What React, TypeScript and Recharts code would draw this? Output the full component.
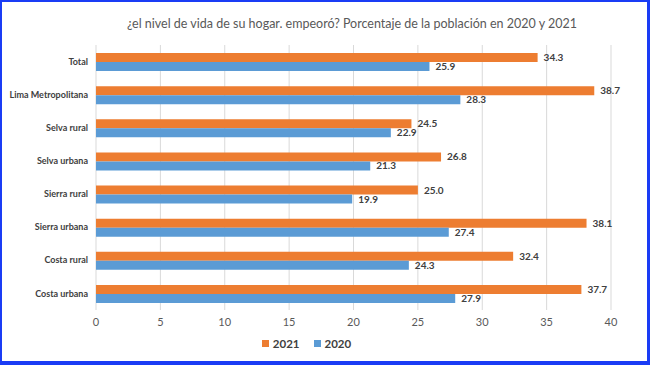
import { BarChart, Bar, XAxis, YAxis, CartesianGrid, Legend, LabelList } from "recharts";

const regions = [
  "Total",
  "Lima Metropolitana",
  "Selva rural",
  "Selva urbana",
  "Sierra rural",
  "Sierra urbana",
  "Costa rural",
  "Costa urbana",
];
const values2021 = [34.3, 38.7, 24.5, 26.8, 25.0, 38.1, 32.4, 37.7];
const values2020 = [25.9, 28.3, 22.9, 21.3, 19.9, 27.4, 24.3, 27.9];
const xTicks = [0, 5, 10, 15, 20, 25, 30, 35, 40];
const series = [
  { key: "y2021", name: "2021", color: "#ED7D31" },
  { key: "y2020", name: "2020", color: "#5B9BD5" },
];

const data = regions.map((r, i) => ({ region: r, y2021: values2021[i], y2020: values2020[i] }));

const font = "Lato, 'Open Sans', sans-serif";

// keeps the long category names on one line
function RegionTick(props: any) {
  const { x, y, payload } = props;
  return (
    <text x={x} y={y} dy="0.35em" textAnchor="end" fontSize={9} fontWeight={700} fill="#404040">
      {payload.value}
    </text>
  );
}

function LegendRow() {
  return (
    <div
      style={{
        display: "flex",
        justifyContent: "center",
        gap: 14,
        paddingTop: 7,
        fontSize: 11.5,
        fontWeight: 700,
        color: "#404040",
      }}
    >
      {series.map((s) => (
        <span key={s.key} style={{ display: "flex", alignItems: "center", gap: 4 }}>
          <span style={{ width: 7, height: 7, background: s.color, display: "inline-block" }} />
          {s.name}
        </span>
      ))}
    </div>
  );
}

export default function App() {
  return (
    <div
      style={{
        position: "absolute",
        top: 0,
        left: 0,
        width: 650,
        height: 365,
        boxSizing: "border-box",
        borderStyle: "solid",
        borderColor: "#1a3cf5",
        borderWidth: "2px 3px 4px 2px",
        background: "#fff",
        fontFamily: font,
      }}
    >
      <div
        style={{
          position: "absolute",
          top: 14,
          left: 0,
          width: 700,
          textAlign: "center",
          fontSize: 12.5,
          color: "#595959",
        }}
      >
        ¿el nivel de vida de su hogar. empeoró? Porcentaje de la población en 2020 y 2021
      </div>
      <BarChart
        width={645}
        height={359}
        data={data}
        layout="vertical"
        margin={{ top: 43, right: 36, bottom: 10, left: 0 }}
        barGap={0}
        style={{ fontFamily: font }}
      >
        <CartesianGrid horizontal={false} stroke="#d9d9d9" />
        <XAxis
          type="number"
          domain={[0, 40]}
          ticks={xTicks}
          axisLine={false}
          tickLine={false}
          tickSize={0}
          tickMargin={8}
          height={20}
          tick={{ fontSize: 11, fill: "#595959" }}
        />
        <YAxis
          type="category"
          dataKey="region"
          width={94}
          axisLine={false}
          tickLine={false}
          tickSize={0}
          tickMargin={8}
          interval={0}
          tick={<RegionTick />}
        />
        <Legend verticalAlign="bottom" height={21} content={<LegendRow />} />
        {series.map((s) => (
          <Bar key={s.key} dataKey={s.key} name={s.name} fill={s.color} barSize={9} isAnimationActive={false}>
            <LabelList
              dataKey={s.key}
              position="right"
              offset={6}
              formatter={(v: number) => v.toFixed(1)}
              style={{ fontSize: 10, fontWeight: 700, fill: "#404040" }}
            />
          </Bar>
        ))}
      </BarChart>
    </div>
  );
}
